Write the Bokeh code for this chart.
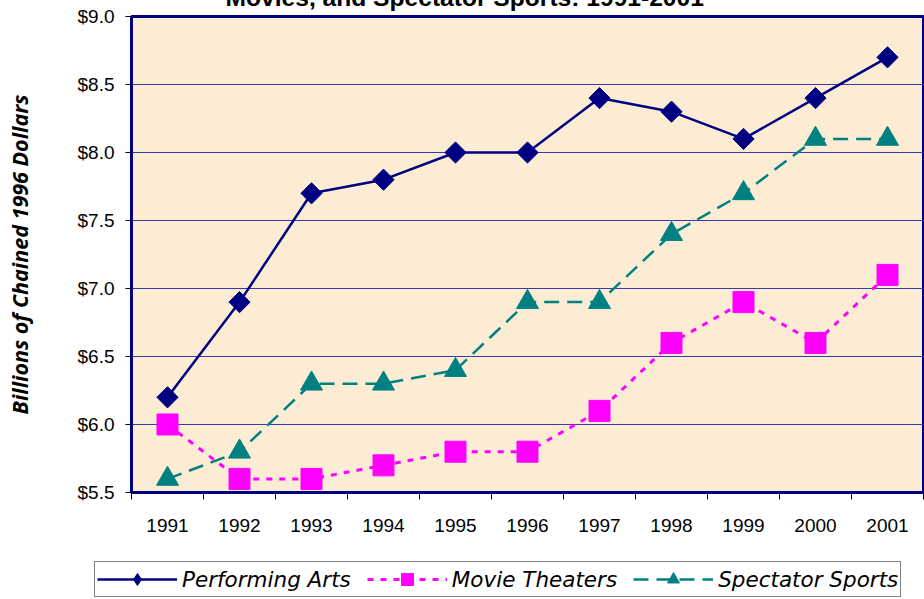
import math
from bokeh.plotting import figure
from bokeh.layouts import column
from bokeh.models import (Range1d, FixedTicker, NumeralTickFormatter, Legend,
                          LegendItem)
from bokeh.embed import file_html
from bokeh.resources import INLINE

years = [1991, 1992, 1993, 1994, 1995, 1996, 1997, 1998, 1999, 2000, 2001]
performing_arts = [6.2, 6.9, 7.7, 7.8, 8.0, 8.0, 8.4, 8.3, 8.1, 8.4, 8.7]
movie_theaters = [6.0, 5.6, 5.6, 5.7, 5.8, 5.8, 6.1, 6.6, 6.9, 6.6, 7.1]
spectator_sports = [5.6, 5.8, 6.3, 6.3, 6.4, 6.9, 6.9, 7.4, 7.7, 8.1, 8.1]
y_ticks = [5.5, 6.0, 6.5, 7.0, 7.5, 8.0, 8.5, 9.0]
series_names = ["Performing Arts", "Movie Theaters", "Spectator Sports"]
title_text = "Movies, and Spectator Sports: 1991-2001"
y_label = "Billions of Chained 1996 Dollars"

NAVY = "#000080"
MAGENTA = "#FF00FF"
TEAL = "#008080"

p = figure(width=924, height=573, output_backend="svg", toolbar_location=None,
           x_range=Range1d(years[0] - 0.5, years[-1] + 0.5),
           y_range=Range1d(y_ticks[0], y_ticks[-1]),
           min_border_left=131, min_border_right=1, min_border_top=44,
           min_border_bottom=53)

p.title.text = title_text
p.title.align = "left"
p.title.offset = 94
p.title.vertical_align = "bottom"
p.title.standoff = 11
p.title.text_font = "Liberation Sans"
p.title.text_font_style = "bold"
p.title.text_font_size = "24.6px"
p.title.text_color = "black"

p.background_fill_color = "#FBECD3"
p.border_fill_color = "white"
p.outline_line_color = NAVY
p.outline_line_width = 3

# grid
p.xgrid.grid_line_color = None
p.ygrid.grid_line_color = "#3A3AAE"
p.ygrid.grid_line_width = 1
p.ygrid.ticker = FixedTicker(ticks=y_ticks)

# x axis
edges = [y - 0.5 for y in years] + [years[-1] + 0.5]
xa = p.xaxis[0]
xa.ticker = FixedTicker(ticks=years, minor_ticks=edges)
xa.major_tick_out = 0
xa.major_tick_in = 0
xa.minor_tick_out = 7
xa.minor_tick_in = 0
xa.minor_tick_line_color = "black"
xa.axis_line_color = NAVY
xa.axis_line_width = 2
xa.major_label_standoff = 19
xa.major_label_text_font = "Liberation Sans"
xa.major_label_text_font_size = "19px"
xa.major_label_text_color = "black"

# y axis
ya = p.yaxis[0]
ya.ticker = FixedTicker(ticks=y_ticks)
ya.formatter = NumeralTickFormatter(format="$0.0")
ya.major_tick_out = 6
ya.major_tick_in = 0
ya.minor_tick_line_color = None
ya.major_tick_line_color = "black"
ya.axis_line_color = NAVY
ya.axis_line_width = 3
ya.major_label_standoff = 11
ya.major_label_text_font = "Liberation Sans"
ya.major_label_text_font_size = "19px"
ya.major_label_text_color = "black"
ya.axis_label = y_label
ya.axis_label_text_font = "Open Sans"
ya.axis_label_text_font_style = "bold italic"
ya.axis_label_text_font_size = "21.5px"
ya.axis_label_text_color = "black"
ya.axis_label_standoff = 41

styles = [
    dict(color=NAVY, width=2.5, dash="solid", marker="square", size=15,
         angle=math.pi / 4, legend_marker="diamond"),
    dict(color=MAGENTA, width=3, dash="6 7", marker="square", size=21,
         angle=0.0, legend_marker="square"),
    dict(color=TEAL, width=2.5, dash="15 8", marker="triangle", size=22,
         angle=0.0, legend_marker="triangle"),
]
series = [performing_arts, movie_theaters, spectator_sports]

for vals, st in zip(series, styles):
    p.line(years, vals, line_color=st["color"], line_width=st["width"],
           line_dash=st["dash"])
    p.scatter(years, vals, marker=st["marker"], size=st["size"],
              angle=st["angle"], fill_color=st["color"],
              line_color=st["color"])

# legend strip (its own small figure; series drawn off-range so only the
# legend shows)
p2 = figure(width=924, height=54, output_backend="svg", toolbar_location=None,
            x_range=Range1d(0, 1), y_range=Range1d(0, 1),
            x_axis_type=None, y_axis_type=None,
            min_border_left=0, min_border_right=0, min_border_top=0,
            min_border_bottom=0)
p2.frame_align = False
p2.outline_line_color = None
p2.background_fill_color = "white"
p2.border_fill_color = "white"

items = []
for name, vals, st in zip(series_names, series, styles):
    lr = p2.line(years, vals, line_color=st["color"], line_width=st["width"],
                 line_dash=st["dash"])
    mr = p2.scatter(years, vals, marker=st["legend_marker"], size=st["size"],
                    fill_color=st["color"], line_color=st["color"])
    items.append(LegendItem(label=name, renderers=[lr, mr]))

legend = Legend(items=items, orientation="horizontal", location=(94, 2))
legend.label_text_font = "DejaVu Sans"
legend.label_text_font_style = "italic"
legend.label_text_font_size = "21.5px"
legend.label_text_color = "black"
legend.glyph_width = 80
legend.glyph_height = 30
legend.label_standoff = 5
legend.spacing = 16
legend.padding = 2
legend.margin = 0
legend.border_line_color = "black"
legend.border_line_width = 1
legend.background_fill_color = "white"
legend.background_fill_alpha = 1
p2.add_layout(legend, "center")

layout = column(p, p2, spacing=0, styles={"margin-top": "-28px"})

open("out.html", "w").write(file_html(layout, INLINE))
